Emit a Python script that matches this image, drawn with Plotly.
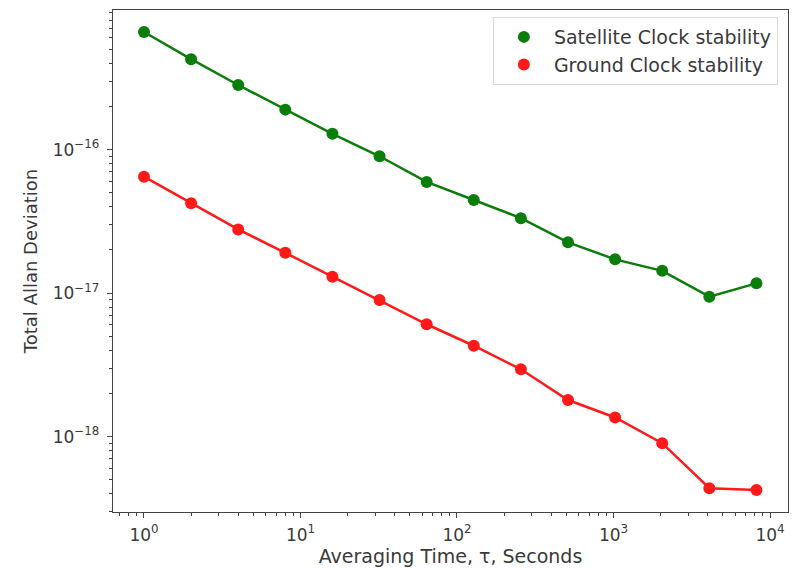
import plotly.graph_objects as go

tau = [1, 2, 4, 8, 16, 32, 64, 128, 256, 512, 1024, 2048, 4096, 8192]
satellite = [6.6e-16, 4.27e-16, 2.82e-16, 1.90e-16, 1.29e-16, 8.99e-17, 5.96e-17,
             4.46e-17, 3.33e-17, 2.26e-17, 1.72e-17, 1.43e-17, 9.45e-18, 1.17e-17]
ground = [6.48e-17, 4.23e-17, 2.78e-17, 1.91e-17, 1.30e-17, 8.97e-18, 6.07e-18,
          4.30e-18, 2.95e-18, 1.80e-18, 1.36e-18, 9.0e-19, 4.37e-19, 4.25e-19]

x_tickvals = [1, 10, 100, 1000, 10000]
x_ticktext = ["10<sup>0</sup>", "10<sup>1</sup>", "10<sup>2</sup>", "10<sup>3</sup>", "10<sup>4</sup>"]
y_tickvals = [1e-18, 1e-17, 1e-16]
y_ticktext = ["10<sup>\u221218</sup>", "10<sup>\u221217</sup>", "10<sup>\u221216</sup>"]

x_minor = [m * 10 ** k for k in range(-1, 5) for m in range(2, 10)]
y_minor = [m * 10.0 ** k for k in range(-19, -15) for m in range(2, 10)]

GREEN = "#0a7d0a"
RED = "#ff1a1a"
FONT = "DejaVu Sans"
TXT = "#3a3a3a"

fig = go.Figure()
for name, vals, col in [("Satellite Clock stability", satellite, GREEN),
                        ("Ground Clock stability", ground, RED)]:
    fig.add_trace(go.Scatter(x=tau, y=vals, mode="lines", line=dict(color=col, width=2.5),
                             showlegend=False, hoverinfo="skip"))
    fig.add_trace(go.Scatter(x=tau, y=vals, mode="markers", name=name,
                             marker=dict(color=col, size=12)))

axis_common = dict(
    showline=True, linecolor="#444", linewidth=1.3, mirror=True,
    ticks="outside", ticklen=5, tickwidth=1.2, tickcolor="#444",
    showgrid=False, zeroline=False,
    tickfont=dict(family=FONT, size=17, color=TXT),
)

fig.update_xaxes(type="log", range=[-0.198, 4.115], tickmode="array",
                 tickvals=x_tickvals, ticktext=x_ticktext, ticklabelstandoff=2,
                 minor=dict(tickmode="array", tickvals=x_minor, ticks="outside",
                            ticklen=3, tickwidth=1, tickcolor="#444", showgrid=False),
                 title=dict(text="Averaging Time, \u03c4, Seconds",
                            font=dict(family=FONT, size=19, color=TXT), standoff=3),
                 **axis_common)
fig.update_yaxes(type="log", range=[-18.525, -15.027], tickmode="array",
                 tickvals=y_tickvals, ticktext=y_ticktext, ticklabelstandoff=4,
                 minor=dict(tickmode="array", tickvals=y_minor, ticks="outside",
                            ticklen=3, tickwidth=1, tickcolor="#444", showgrid=False),
                 title=dict(text="Total Allan Deviation",
                            font=dict(family=FONT, size=18, color=TXT), standoff=10),
                 **axis_common)

fig.update_layout(
    width=795, height=573,
    margin=dict(l=113, r=7, t=10, b=61),
    paper_bgcolor="white", plot_bgcolor="white",
    font=dict(family=FONT, color=TXT),
    legend=dict(x=0.985, y=0.986, xanchor="right", yanchor="top",
                bordercolor="#d8d8d8", borderwidth=1, bgcolor="rgba(255,255,255,0.9)",
                font=dict(family=FONT, size=19, color=TXT), itemwidth=50),
)

fig.write_html("out.html")
